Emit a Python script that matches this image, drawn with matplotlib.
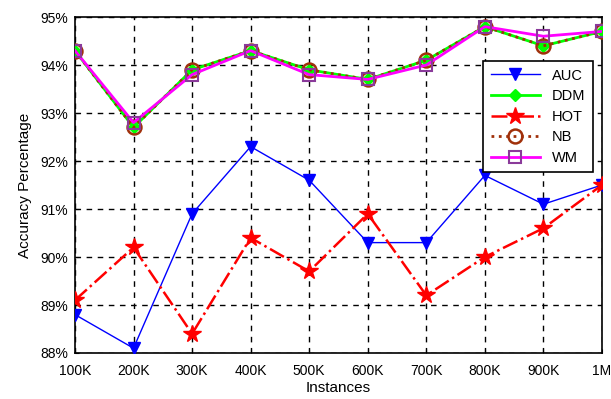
import matplotlib
matplotlib.use("Agg")
import matplotlib.pyplot as plt
import matplotlib.ticker as mticker
import numpy as np

plt.rcParams.update({
    "font.family": "Liberation Sans",
    "font.size": 10,
})

# Data
instances = ["100K", "200K", "300K", "400K", "500K", "600K", "700K", "800K", "900K", "1M"]
auc = [88.8, 88.1, 90.9, 92.3, 91.6, 90.3, 90.3, 91.7, 91.1, 91.5]
ddm = [94.3, 92.7, 93.9, 94.3, 93.9, 93.7, 94.1, 94.8, 94.4, 94.7]
hot = [89.1, 90.2, 88.4, 90.4, 89.7, 90.9, 89.2, 90.0, 90.6, 91.5]
nb = [94.3, 92.7, 93.9, 94.3, 93.9, 93.7, 94.1, 94.8, 94.4, 94.7]
wm = [94.3, 92.8, 93.8, 94.3, 93.8, 93.7, 94.0, 94.8, 94.6, 94.7]

fig = plt.figure(figsize=(6.11, 3.99), dpi=100)
ax = fig.add_axes([0.1227, 0.1153, 0.8625, 0.842])
x = np.arange(len(instances))

ax.plot(x, auc, color="blue", lw=1, marker="v", ms=8, label="AUC", zorder=3)
ax.plot(x, ddm, color="#00ff00", lw=2, marker="D", ms=6, label="DDM", zorder=3)
ax.plot(x, hot, color="red", lw=1.8, ls="-.", marker="*", ms=13, label="HOT", zorder=3)
ax.plot(x, nb, color="#a0300a", lw=2, ls=":", marker="o", ms=10, mfc="none",
        mew=1.8, label="NB", zorder=3)
ax.plot(x, wm, color="magenta", lw=2, marker="s", ms=8, mfc="none",
        mec="#8a3a9a", mew=1.5, label="WM", zorder=4)

ax.set_xlim(0, len(instances) - 1)
ax.set_ylim(88, 95)
ax.set_xticks(x)
ax.set_xticklabels(instances)
ax.set_yticks(np.arange(88, 96, 1))
ax.yaxis.set_major_formatter(mticker.FuncFormatter(lambda v, _: f"{v:.0f}%"))
ax.tick_params(direction="in", length=3, labelsize=10)
ax.tick_params(axis="x", pad=8)
ax.tick_params(axis="y", pad=5)
ax.grid(True, color="black", ls=(0, (4, 4)), lw=1)
ax.set_axisbelow(True)
for s in ax.spines.values():
    s.set_linewidth(1.2)

ax.set_xlabel("Instances", fontsize=11, labelpad=2)
ax.set_ylabel("Accuracy Percentage", fontsize=11, labelpad=6)

leg = ax.legend(loc="upper right", bbox_to_anchor=(0.996, 0.89), fancybox=False,
                edgecolor="black", framealpha=1, fontsize=10.5,
                handlelength=3.4, borderpad=0.5, labelspacing=0.45)
leg.get_frame().set_linewidth(1.2)

fig.savefig("out.png", dpi=100)
